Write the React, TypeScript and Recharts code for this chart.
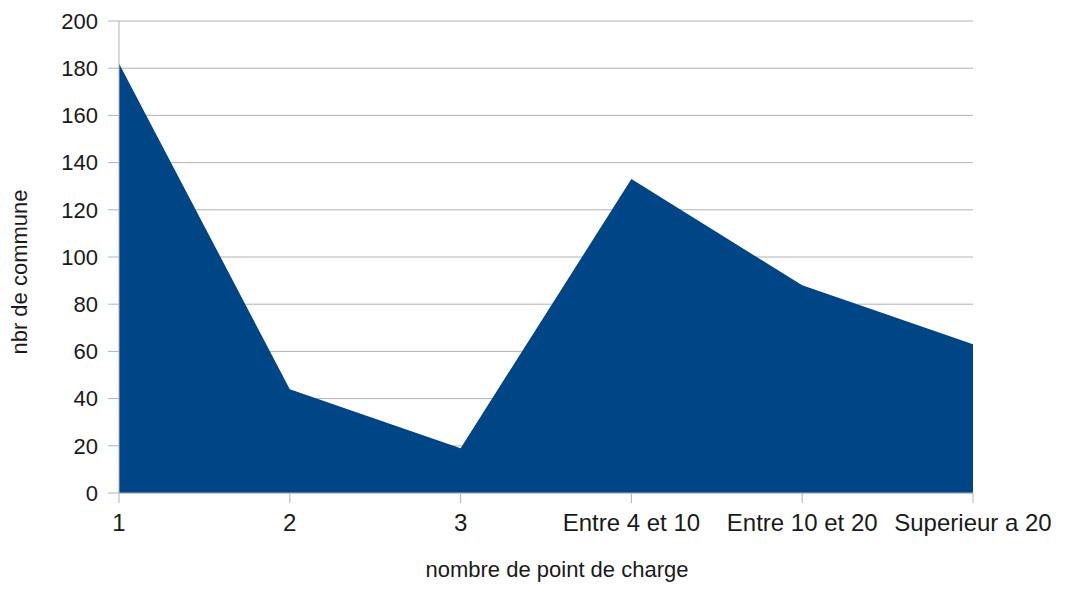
import React from "react";
import { Area, AreaChart, CartesianGrid, XAxis, YAxis } from "recharts";

const CATEGORIES = ["1", "2", "3", "Entre 4 et 10", "Entre 10 et 20", "Superieur a 20"];
const COMMUNES = [182, 44, 19, 133, 88, 63];
const Y_TICKS = [0, 20, 40, 60, 80, 100, 120, 140, 160, 180, 200];

const data = CATEGORIES.map((cat, i) => ({ cat, value: COMMUNES[i] }));

const FONT = "'Liberation Sans', Arial, sans-serif";
const GRID = "#b3b3b3";
const TEXT = "#1a1a1a";

export default function App() {
  return (
    <div style={{ position: "absolute", left: 0, top: 0, width: 1065, height: 597, background: "#fff", fontFamily: FONT }}>
      <AreaChart width={1065} height={597} data={data} margin={{ top: 21, right: 92, left: 0, bottom: 0 }}>
        <CartesianGrid vertical={false} stroke={GRID} strokeWidth={1} />
        <XAxis
          dataKey="cat"
          height={104}
          stroke={GRID}
          tickSize={10}
          tickMargin={11}
          interval={0}
          tick={{ fill: TEXT, fontSize: 24, fontFamily: FONT }}
          label={(props: any) => {
            const vb = props.viewBox;
            return (
              <text x={557} y={vb.y + 84} textAnchor="middle" fill={TEXT} fontSize={22} fontFamily={FONT}>
                nombre de point de charge
              </text>
            );
          }}
        />
        <YAxis
          width={119}
          domain={[0, 200]}
          ticks={Y_TICKS}
          stroke={GRID}
          tickSize={11}
          tickMargin={10}
          interval={0}
          tick={{ fill: TEXT, fontSize: 22, fontFamily: FONT }}
          label={() => (
            <text x={27} y={272} transform="rotate(-90 27 272)" textAnchor="middle" fill={TEXT} fontSize={22} fontFamily={FONT}>
              nbr de commune
            </text>
          )}
        />
        <Area
          type="linear"
          dataKey="value"
          stroke="none"
          fill="#004586"
          fillOpacity={1}
          isAnimationActive={false}
        />
      </AreaChart>
    </div>
  );
}
